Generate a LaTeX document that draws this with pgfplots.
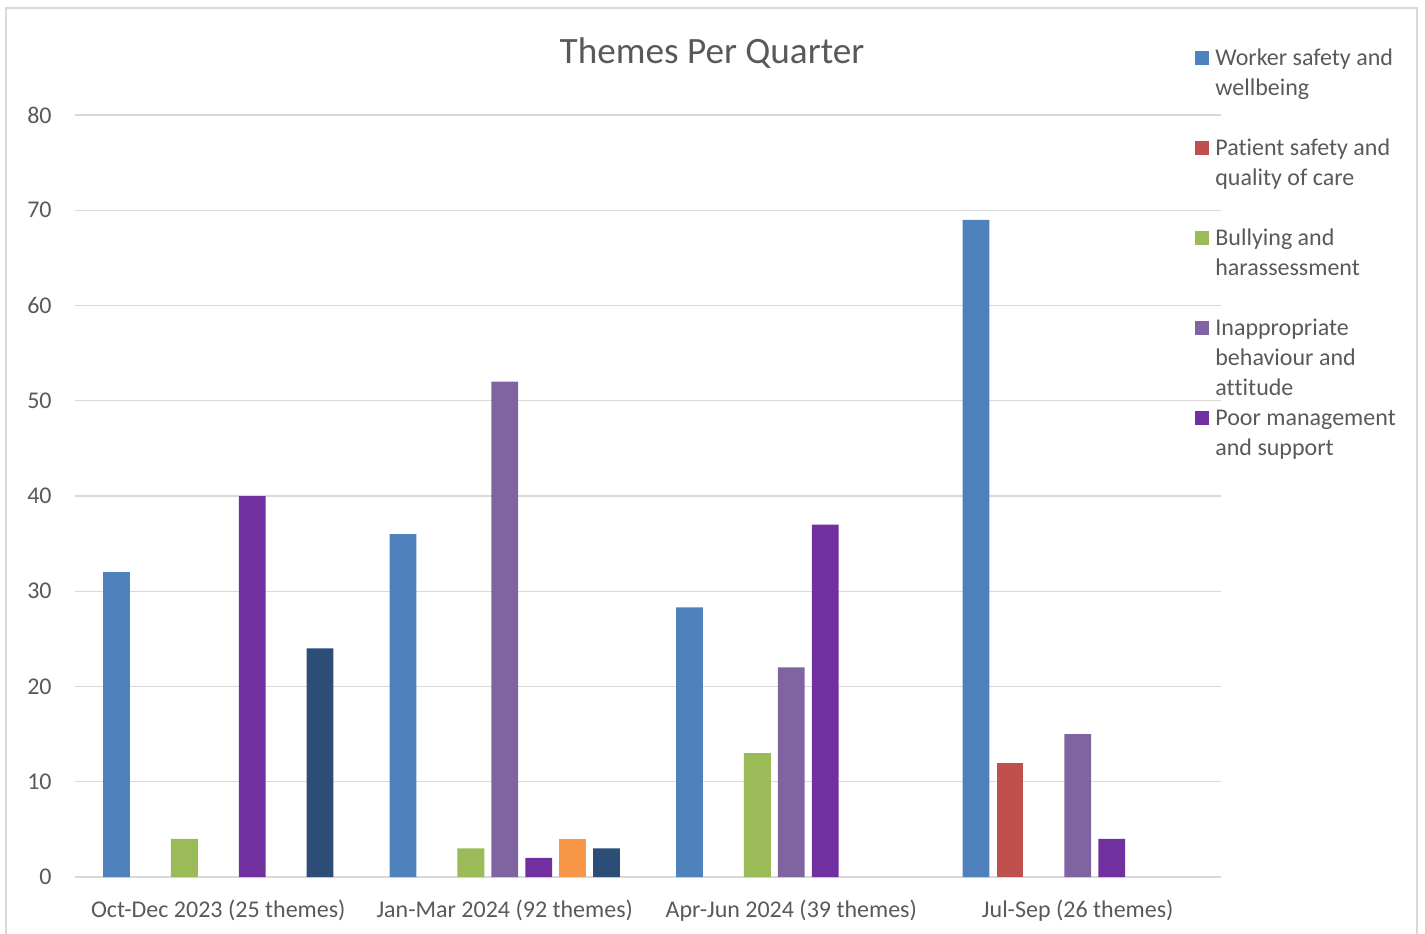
\documentclass[border=0pt]{standalone}
\usepackage{fontspec}
\setmainfont{Carlito}[Ligatures={NoCommon,NoRare,NoContextual}, Contextuals=NoAlternate]
\usepackage{pgfplots}
\pgfplotsset{compat=1.18}

\definecolor{cWorker}{HTML}{4F81BD}
\definecolor{cPatient}{HTML}{C0504D}
\definecolor{cBully}{HTML}{9BBB59}
\definecolor{cInappr}{HTML}{8064A2}
\definecolor{cPoorMgmt}{HTML}{7030A0}
\definecolor{cOrange}{HTML}{F79646}
\definecolor{cNavy}{HTML}{2C4D75}
\definecolor{cText}{HTML}{595959}
\definecolor{cGrid}{HTML}{D9D9D9}

% legend entry: baseline on its first line
\newcommand\lentry[1]{\parbox[t]{110pt}{\fontsize{12}{15}\selectfont\raggedright #1}}

\begin{document}
\begin{tikzpicture}
\begin{axis}[
  scale only axis, width=573pt, height=381pt,
  xmin=-0.5, xmax=3.5, ymin=0, ymax=80,
  ybar, bar width=0.0935,
  xtick={0,1,2,3},
  xticklabels={Oct-Dec 2023 (25 themes), Jan-Mar 2024 (92 themes), Apr-Jun 2024 (39 themes), Jul-Sep (26 themes)},
  ytick={0,10,...,80},
  ymajorgrids, grid style={draw=cGrid, line width=0.7pt},
  axis x line*=bottom, axis y line*=left,
  x axis line style={draw=cGrid, line width=1pt, -},
  y axis line style={draw=none},
  major tick length=0pt, tick style={draw=none},
  ticklabel style={font=\fontsize{12}{15}\selectfont, text=cText},
  yticklabel style={anchor=east, inner sep=0pt, xshift=-11.5pt},
  xticklabel style={anchor=base, inner sep=0pt, yshift=-20pt},
  /pgf/number format/assume math mode=true,
  title={Themes Per Quarter},
  title style={at={(0.5558,1.0656)}, anchor=center, font=\fontsize{18.6}{22}\selectfont, text=cText},
  legend style={at={(0.9773,1.0892)}, anchor=north west, draw=none, fill=none,
    inner sep=0pt, row sep=0pt, column sep=3pt,
    nodes={inner sep=0pt, text=cText, text height=9pt, text depth=36pt},
    cells={anchor=base west}},
  legend image code/.code={\fill[#1] (0pt,0pt) rectangle (7pt,7pt);},
]
\addplot[fill=cWorker, draw=none, bar shift=-0.3549]
  coordinates {(0,32) (1,36) (2,28.3) (3,69)};
\addlegendentry{\lentry{Worker safety and\\wellbeing}}
\addplot[fill=cPatient, draw=none, bar shift=-0.2366]
  coordinates {(3,12)};
\addlegendentry{\lentry{Pat\kern0pt ient safety and\\quality of care}}
\addplot[fill=cBully, draw=none, bar shift=-0.1183]
  coordinates {(0,4) (1,3) (2,13)};
\addlegendentry{\lentry{Bullying and\\harassessment}}
\addplot[fill=cInappr, draw=none, bar shift=0]
  coordinates {(1,52) (2,22) (3,15)};
\addlegendentry{\lentry{Inappropriate\\behaviour and\\at\kern0pt t\kern0pt itude}}
\addplot[fill=cPoorMgmt, draw=none, bar shift=0.1183]
  coordinates {(0,40) (1,2) (2,37) (3,4)};
\addlegendentry{\lentry{Poor management\\and support}}
\addplot[fill=cOrange, draw=none, bar shift=0.2366, forget plot]
  coordinates {(1,4)};
\addplot[fill=cNavy, draw=none, bar shift=0.3549, forget plot]
  coordinates {(0,24) (1,3)};
\end{axis}
% chart frame
\draw[cGrid, line width=1pt] (-34.5pt,-30pt) -- (-34.5pt,434.5pt) -- (671pt,434.5pt) -- (671pt,-30pt);
\pgfresetboundingbox
\useasboundingbox (-37.5pt,-28pt) rectangle (675pt,438.5pt);
\end{tikzpicture}
\end{document}
